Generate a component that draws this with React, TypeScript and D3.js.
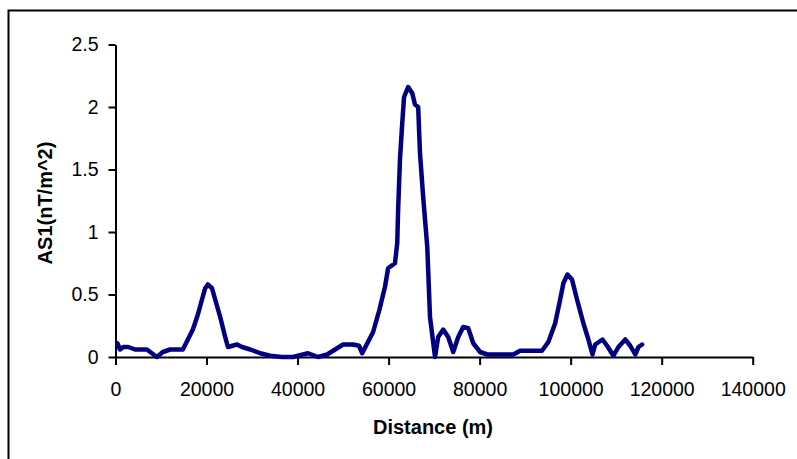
import React, { useEffect, useRef } from "react";
import * as d3 from "d3";

// distance along profile (m)
const distance = [
  400, 1000, 1700, 2800, 4300, 5800, 6900, 8000, 9100, 10400, 12000, 13100, 14800, 15900,
  17000, 18100, 19000, 19700, 20300, 21200, 21900, 23000, 24100, 24700, 26700, 27800,
  29600, 31800, 34000, 36500, 39000, 42300, 44500, 46500, 48700, 50000, 52200, 53500,
  54200, 56600, 58000, 59200, 59900, 61400, 61900, 62100, 62500, 63000, 63400, 64300,
  65200, 65800, 66500, 66900, 67600, 68500, 69100, 70200, 70900, 72000, 73100, 74200,
  75300, 76400, 77500, 78600, 80100, 81700, 83800, 87400, 88900, 91800, 93700, 95100,
  96600, 97700, 98400, 99300, 100300, 101400, 102800, 103900, 104800, 105400, 107000,
  108000, 109400, 110500, 112000, 113100, 114200, 114900, 115700
];

// AS1 values (nT/m^2)
const as1 = [
  0.11, 0.06, 0.08, 0.08, 0.06, 0.06, 0.06, 0.03, 0.0, 0.04, 0.06, 0.06, 0.06, 0.14,
  0.22, 0.34, 0.46, 0.55, 0.58, 0.55, 0.46, 0.32, 0.16, 0.08, 0.1, 0.08,
  0.06, 0.03, 0.01, 0.0, 0.0, 0.03, 0.0, 0.02, 0.07, 0.1, 0.1, 0.09,
  0.03, 0.2, 0.38, 0.56, 0.71, 0.75, 0.91, 1.18, 1.58, 1.87, 2.08, 2.16,
  2.11, 2.02, 2.0, 1.63, 1.28, 0.88, 0.32, 0.0, 0.16, 0.22, 0.16, 0.04,
  0.16, 0.24, 0.23, 0.11, 0.04, 0.02, 0.02, 0.02, 0.05, 0.05, 0.05, 0.12,
  0.27, 0.46, 0.59, 0.66, 0.62, 0.46, 0.27, 0.14, 0.02, 0.1, 0.14,
  0.09, 0.01, 0.08, 0.14, 0.09, 0.02, 0.08, 0.1
];

const xTicks = [0, 20000, 40000, 60000, 80000, 100000, 120000, 140000];
const yTicks = [0, 0.5, 1, 1.5, 2, 2.5];

function App() {
  const ref = useRef<SVGSVGElement>(null);

  useEffect(() => {
    const svg = d3.select(ref.current);
    svg.selectAll("*").remove();

    const x = d3.scaleLinear().domain([0, 140000]).range([115.5, 752.7]);
    const y = d3.scaleLinear().domain([0, 2.5]).range([357, 44.5]);

    // outer frame
    svg.append("rect")
      .attr("x", 8.5).attr("y", 10.5)
      .attr("width", 820).attr("height", 470)
      .attr("fill", "white")
      .attr("stroke", "black")
      .attr("stroke-width", 2);

    const font = "'Liberation Sans', Arial, sans-serif";

    // X axis
    const gx = svg.append("g")
      .attr("transform", `translate(0,${y(0)})`)
      .call(d3.axisBottom(x).tickValues(xTicks).tickFormat(d3.format("d"))
        .tickSizeInner(8).tickSizeOuter(0).tickPadding(17));
    gx.select(".domain").attr("stroke-width", 2);
    gx.selectAll(".tick line").attr("stroke-width", 2);
    gx.selectAll("text")
      .style("font-family", font)
      .style("font-size", "19.5px")
      .attr("fill", "black");

    // Y axis
    const gy = svg.append("g")
      .attr("transform", `translate(${x(0)},0)`)
      .call(d3.axisLeft(y).tickValues(yTicks).tickFormat(d => String(d))
        .tickSizeInner(7).tickSizeOuter(0).tickPadding(10));
    gy.select(".domain").attr("stroke-width", 2);
    gy.selectAll(".tick line").attr("stroke-width", 2);
    gy.selectAll("text")
      .style("font-family", font)
      .style("font-size", "19.5px")
      .attr("fill", "black");

    // data line
    const pts: [number, number][] = distance.map((d, i) => [d, as1[i]]);
    svg.append("path")
      .datum(pts)
      .attr("fill", "none")
      .attr("stroke", "#000080")
      .attr("stroke-width", 4.5)
      .attr("stroke-linejoin", "round")
      .attr("stroke-linecap", "round")
      .attr("d", d3.line<[number, number]>().x(d => x(d[0])).y(d => y(d[1])));

    // axis titles
    svg.append("text")
      .attr("x", 433).attr("y", 434)
      .attr("text-anchor", "middle")
      .style("font-family", font)
      .style("font-size", "20px")
      .style("font-weight", "bold")
      .text("Distance (m)");

    svg.append("text")
      .attr("transform", "translate(52,203) rotate(-90)")
      .attr("text-anchor", "middle")
      .style("font-family", font)
      .style("font-size", "20px")
      .style("font-weight", "bold")
      .text("AS1(nT/m^2)");
  }, []);

  return (
    <svg
      ref={ref}
      width={797}
      height={459}
      style={{ position: "fixed", left: 0, top: 0, background: "white" }}
    />
  );
}

export default App;
